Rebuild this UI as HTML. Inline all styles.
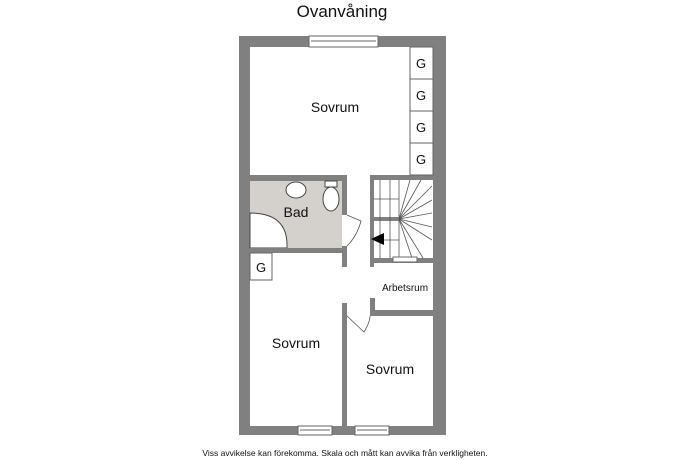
<!DOCTYPE html>
<html><head><style>body{margin:0;background:#fff}svg{display:block}text{font-family:"Liberation Sans",sans-serif}</style></head><body>
<svg width="690" height="460" viewBox="0 0 690 460" xmlns="http://www.w3.org/2000/svg">
<text x="342" y="17" font-size="17" text-anchor="middle" fill="#111">Ovanvåning</text>
<!-- outer walls -->
<path d="M239 36H446V435H239Z M250 47V426H433V47Z" fill="#808080" fill-rule="evenodd"/>
<!-- bad floor -->
<rect x="250" y="181" width="92" height="67" fill="#d4d0cc"/>
<!-- shower -->
<path d="M250 213 Q287 213 287 245 L287 248 L250 248Z" fill="#fff" stroke="#444" stroke-width="1"/>
<!-- interior walls -->
<g fill="#808080">
<rect x="250" y="175" width="97" height="6"/>
<rect x="370" y="175" width="63" height="5"/>
<rect x="342" y="181" width="5" height="34"/>
<rect x="342" y="246" width="5" height="21"/>
<rect x="250" y="248" width="97" height="5"/>
<rect x="370" y="175" width="4" height="92"/>
<rect x="372" y="217" width="28" height="4"/>
<rect x="370" y="258" width="63" height="5"/>
<rect x="370" y="298" width="5" height="18"/>
<rect x="370" y="310" width="63" height="6"/>
<rect x="342" y="303" width="5" height="123"/>
</g>
<!-- stairs -->
<g stroke="#555" stroke-width="0.8" fill="none">
<line x1="380" y1="180" x2="380" y2="258"/><line x1="390" y1="180" x2="390" y2="258"/>
<line x1="374" y1="199" x2="399" y2="199"/><line x1="374" y1="240" x2="399" y2="240"/>
<line x1="399" y1="180" x2="399" y2="217"/><line x1="399" y1="221" x2="399" y2="258"/>
<line x1="399" y1="219" x2="410" y2="180"/><line x1="399" y1="219" x2="421" y2="180"/>
<line x1="399" y1="219" x2="432" y2="186"/><line x1="399" y1="219" x2="432" y2="200"/>
<line x1="399" y1="219" x2="432" y2="213"/><line x1="399" y1="219" x2="432" y2="227"/>
<line x1="399" y1="219" x2="432" y2="240"/><line x1="399" y1="219" x2="423" y2="258"/>
<line x1="399" y1="219" x2="412" y2="258"/>
</g>
<path d="M371 239 L384 233 L384 245Z" fill="#000"/>
<!-- windows -->
<g fill="#fff" stroke="#666" stroke-width="1">
<rect x="309" y="36" width="69" height="11"/><line x1="311" y1="41" x2="376" y2="41"/>
<rect x="298" y="426" width="34" height="9"/><line x1="300" y1="430" x2="330" y2="430"/>
<rect x="355" y="426" width="34" height="9"/><line x1="357" y1="430" x2="387" y2="430"/>
<rect x="393" y="257" width="24" height="5"/>
</g>
<!-- closets -->
<g fill="#fff" stroke="#666" stroke-width="1">
<rect x="410" y="47" width="23" height="32"/><rect x="410" y="79" width="23" height="32"/>
<rect x="410" y="111" width="23" height="32"/><rect x="410" y="143" width="23" height="32"/>
<rect x="250" y="253" width="22" height="27"/>
</g>
<g font-size="13" text-anchor="middle" fill="#111">
<text x="421" y="68">G</text><text x="421" y="100">G</text><text x="421" y="132">G</text><text x="421" y="164">G</text>
<text x="261" y="272">G</text>
</g>
<!-- sanitary -->
<ellipse cx="296" cy="190" rx="10" ry="8" fill="#fff" stroke="#444"/>
<ellipse cx="331" cy="199" rx="8" ry="12" fill="#fff" stroke="#444"/>
<rect x="325" y="181" width="12" height="6" fill="#fff" stroke="#444"/>
<!-- doors -->
<g stroke="#555" stroke-width="0.8" fill="none">
<path d="M347 215 L361 221 Q357 236 347 246"/>
<path d="M347 316 L364 332 Q370 322 370 316"/>
</g>
<g fill="#111" text-anchor="middle">
<text x="335" y="112" font-size="14">Sovrum</text>
<text x="296" y="217" font-size="14">Bad</text>
<text x="405" y="291" font-size="10">Arbetsrum</text>
<text x="296" y="348" font-size="14">Sovrum</text>
<text x="390" y="374" font-size="14">Sovrum</text>
<text x="345" y="456" font-size="8.5">Viss avvikelse kan förekomma. Skala och mått kan avvika från verkligheten.</text>
</g>
</svg>
</body></html>
